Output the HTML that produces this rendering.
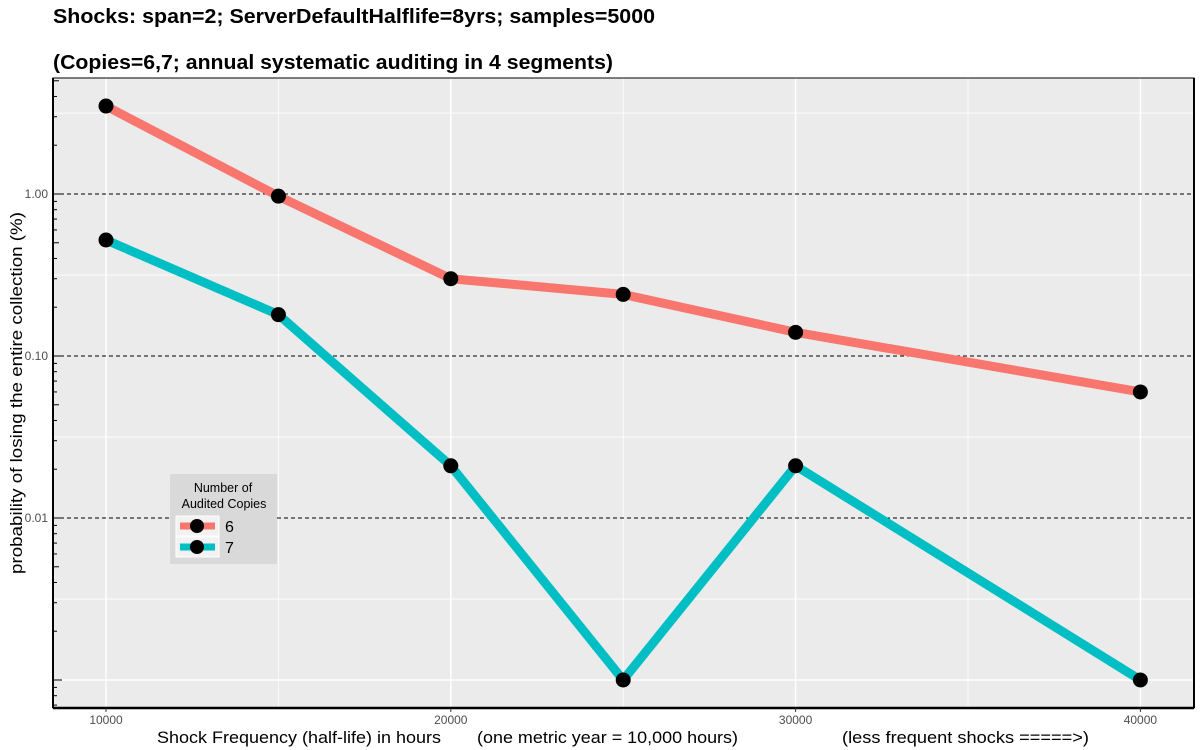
<!DOCTYPE html>
<html><head><meta charset="utf-8"><style>
html,body{margin:0;padding:0;background:#fff;}
svg{display:block;font-family:"Liberation Sans",Arial,sans-serif;}
</style></head><body>
<svg id="chart" width="1200" height="750" xmlns="http://www.w3.org/2000/svg">
<text x="53" y="23" font-size="20" font-weight="bold" textLength="602" lengthAdjust="spacingAndGlyphs">Shocks: span=2; ServerDefaultHalflife=8yrs; samples=5000</text>
<text x="53" y="69" font-size="20" font-weight="bold" textLength="560" lengthAdjust="spacingAndGlyphs">(Copies=6,7; annual systematic auditing in 4 segments)</text>
<rect x="53" y="78" width="1141" height="630" fill="#ebebeb"/>
<g id="grid"></g>
<g id="series"></g>
<rect x="53" y="78" width="1141" height="630" fill="none" stroke="#000" stroke-width="1"/>
<line x1="53" y1="708" x2="1194" y2="708" stroke="#000" stroke-width="2.5"/>
<line x1="1194" y1="78" x2="1194" y2="708" stroke="#000" stroke-width="2"/>
<line x1="53" y1="78" x2="53" y2="708" stroke="#000" stroke-width="2"/>
<g id="axes"></g>
<text x="157" y="743" font-size="17" textLength="284" lengthAdjust="spacingAndGlyphs">Shock Frequency (half-life) in hours</text>
<text x="477" y="743" font-size="17" textLength="261" lengthAdjust="spacingAndGlyphs">(one metric year = 10,000 hours)</text>
<text x="842" y="743" font-size="17" textLength="247" lengthAdjust="spacingAndGlyphs">(less frequent shocks =====&gt;)</text>
<text transform="translate(22,393) rotate(-90)" text-anchor="middle" font-size="17" textLength="362" lengthAdjust="spacingAndGlyphs">probability of losing the entire collection (%)</text>
<g>
<rect x="170" y="474" width="107" height="90" fill="#d9d9d9"/>
<text x="223" y="492" font-size="12.5" text-anchor="middle">Number of</text>
<text x="224" y="508" font-size="12.5" text-anchor="middle">Audited Copies</text>
<g>
<rect x="176" y="516" width="43" height="20" fill="#f2f2f2" stroke="#fff"/>
<line x1="180" y1="526" x2="215" y2="526" stroke="#f8766d" stroke-width="7"/>
<circle cx="197" cy="526" r="7" fill="#000"/>
<text x="225" y="532" font-size="16">6</text>
</g>
<g>
<rect x="176" y="537" width="43" height="20" fill="#f2f2f2" stroke="#fff"/>
<line x1="180" y1="547" x2="215" y2="547" stroke="#00bfc4" stroke-width="7"/>
<circle cx="197" cy="547" r="7" fill="#000"/>
<text x="225" y="553" font-size="16">7</text>
</g>
</g>
</svg>
<script>
const categories = [10000, 15000, 20000, 25000, 30000, 40000];
const series6 = [3.49, 0.97, 0.30, 0.24, 0.14, 0.06];
const series7 = [0.52, 0.18, 0.021, 0.001, 0.021, 0.001];
const xTicks = [10000, 20000, 30000, 40000];
const xTickLabels = ["10000", "20000", "30000", "40000"];
const yTicks = [0.01, 0.1, 1];
const yTickLabels = ["0.01", "0.10", "1.00"];

const NS = "http://www.w3.org/2000/svg";
function xs(v){ return 106 + (v - 10000) * 0.03448; }
function ys(v){ return 194 - Math.log10(v) * 162; }
function mk(tag, attrs, parent){
  const e = document.createElementNS(NS, tag);
  for (const k in attrs) e.setAttribute(k, attrs[k]);
  parent.appendChild(e); return e;
}
const grid = document.getElementById('grid');
const axes = document.getElementById('axes');
const ser = document.getElementById('series');
[5000, 15000, 25000, 35000, 45000].forEach(v => {
  const x = xs(v); if (x < 53 || x > 1194) return;
  const l = mk('line', {x1:x, x2:x, y1:78, y2:708, stroke:'#fff', 'stroke-width':0.8}, grid);
  
  
});
[0.000316, 0.00316, 0.0316, 0.316, 3.16].forEach(v => {
  const y = ys(v); if (y < 78 || y > 708) return;
  const l = mk('line', {x1:53, x2:1194, y1:y, y2:y, stroke:'#fff', 'stroke-width':0.8}, grid);
  
  
});
[0.001].forEach(v => {
  const y = ys(v);
  const l = mk('line', {x1:53, x2:1194, y1:y, y2:y, stroke:'#fff', 'stroke-width':1.5}, grid);
  
  
});
xTicks.forEach((v, i) => {
  const x = xs(v);
  const l = mk('line', {x1:x, x2:x, y1:78, y2:708, stroke:'#fff', 'stroke-width':1.5}, grid);
  
  
  const t = mk('line', {x1:x, x2:x, y1:708, y2:712, stroke:'#333'}, axes);
  
  
  const tx = mk('text', {x:x, y:724, 'font-size':12, fill:'#4d4d4d', 'text-anchor':'middle'}, axes);
  tx.textContent = xTickLabels[i];
  
  
});
yTicks.forEach((v, i) => {
  const y = ys(v);
  const l = mk('line', {x1:53, x2:1194, y1:y, y2:y, stroke:'#000', 'stroke-width':1, 'stroke-dasharray':'4,3'}, grid);
  
  
  const tx = mk('text', {x:48, y:y+4, 'font-size':12, fill:'#4d4d4d', 'text-anchor':'end'}, axes);
  tx.textContent = yTickLabels[i];
  
  
});
for (let e = -4; e <= 1; e++) {
  for (let m = 1; m <= 9; m++) {
    const v = m * Math.pow(10, e); const y = ys(v);
    if (y < 78 || y > 708) continue;
    const len = m === 1 ? 9 : (m === 5 ? 6 : 4);
    const t = mk('line', {x1:53, x2:53+len, y1:y, y2:y, stroke:'#000', 'stroke-width':1}, axes);
    
    
  }
}
function drawSeries(vals, color, name){
  const pts = categories.map((c, i) => xs(c) + ',' + ys(vals[i])).join(' ');
  const pl = mk('polyline', {points:pts, fill:'none', stroke:color, 'stroke-width':9, 'stroke-linejoin':'round'}, ser);
  
  
  categories.forEach((c, i) => {
    const p = mk('circle', {cx:xs(c), cy:ys(vals[i]), r:7.5, fill:'#000'}, ser);
    
    
  });
}
drawSeries(series6, '#f8766d', 'series-6');
drawSeries(series7, '#00bfc4', 'series-7');
</script>
</body></html>
